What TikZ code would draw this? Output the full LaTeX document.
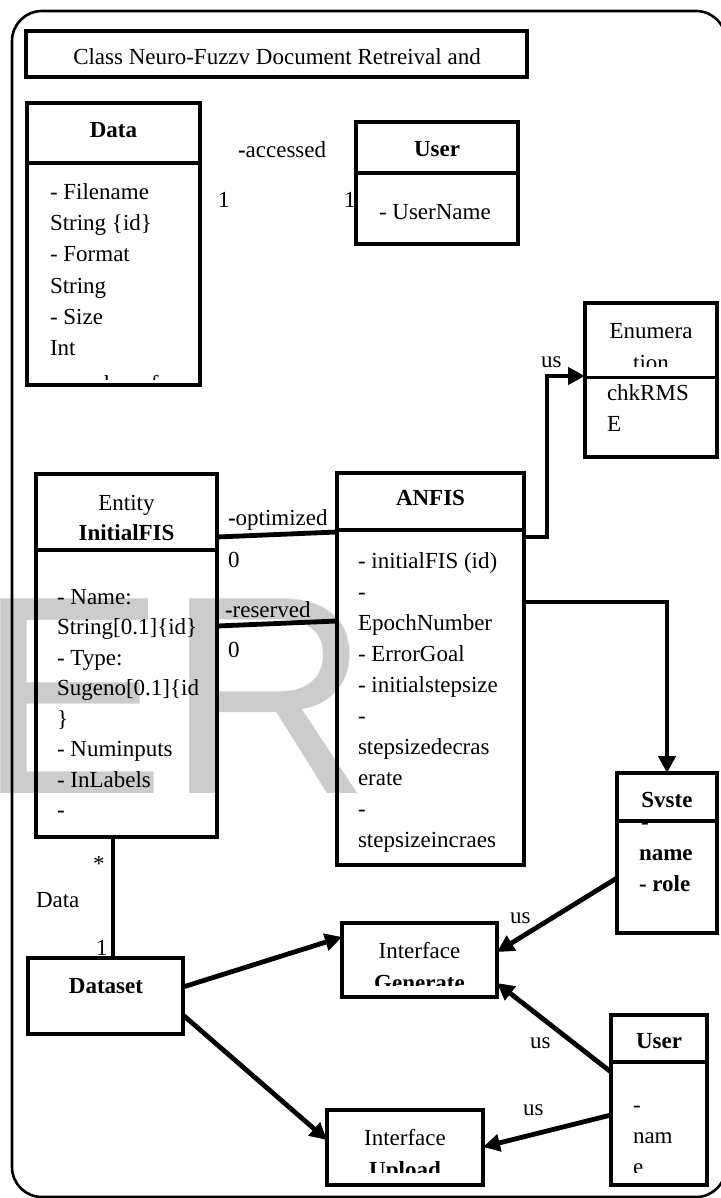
\documentclass[tikz,border=0pt]{standalone}
\usepackage{fontspec}
\setmainfont{Liberation Serif}
\newfontfamily\wmfont{Liberation Sans}
\usetikzlibrary{arrows.meta,fit,calc}

\begin{document}
\begin{tikzpicture}[x=0.5pt,y=-0.5pt,
  every node/.style={inner sep=0pt, outer sep=0pt},
  txt/.style={font=\fontsize{11.5}{15.5}\selectfont, anchor=base west},
  btxt/.style={font=\fontsize{11.5}{15.5}\selectfont\bfseries, anchor=base west},
  ctxt/.style={font=\fontsize{11.5}{15.5}\selectfont, anchor=base},
  hdr/.style={font=\fontsize{11.5}{15.5}\selectfont\bfseries, anchor=base},
  umlbox/.style={draw, line width=2pt, inner sep=0pt, outer sep=0pt},
  divider/.style={line width=2pt},
  assoc/.style={line width=2.4pt},
  dep/.style={line width=2.4pt, -{Triangle[length=8.5pt,width=8.5pt]}},
]
\useasboundingbox (0,0) rectangle (720,1198);

% background watermark letters
\node[anchor=base west, text=gray!40,
      font=\wmfont\fontsize{141.5}{150}\selectfont] (wm) at (-22,793) {ER};

% outer frame
\draw[line width=1.3pt, rounded corners=15pt] (12,11) rectangle (726,1197);

% title
\node[umlbox, fit={(26,31)(527,77)}] (title) {};
\node[ctxt] (titletext) at (277,65) {Class Neuro-Fuzzv Document Retreival and};

% Data class
\node[umlbox, fit={(27,103)(200,385)}] (data) {};
\draw[divider] (data.west |- 0,163) -- (data.east |- 0,163);
\node[hdr] (datah) at (113.5,138) {Data};
\begin{scope}
  \clip (29,165) rectangle (198,379);
  \foreach \t [count=\i from 0] in {- Filename, String \{id\}, - Format, String, - Size, Int}
    \node[txt] (data-a\i) at (50,200+31*\i) {\t};
  \node[txt] (data-a6) at (50,391) {- number of};
\end{scope}

% association Data -- User
\node[txt] (acc) at (238,158) {\textbf{-}accessed};
\node[txt] (accm1) at (218,207) {1};
\node[txt] (accm2) at (344,207) {1};

% User class (top)
\node[umlbox, fit={(356,122)(518,244)}] (user) {};
\draw[divider] (user.west |- 0,173) -- (user.east |- 0,173);
\node[hdr] (userh) at (437,157) {User};
\node[txt] (usera) at (379,220) {- UserName};

% Enumeration
\node[umlbox, fit={(585,303)(717,457)}] (enum) {};
\draw[line width=1.5pt] (enum.west |- 0,377) -- (enum.east |- 0,377);
\node[ctxt] (enumh1) at (651,338) {Enumera};
\begin{scope}
  \clip (587,305) rectangle (715,366);
  \node[ctxt] (enumh2) at (651,370) {tion};
\end{scope}
\node[txt] (enuma1) at (607,400) {chkRMS};
\node[txt] (enuma2) at (607,431) {E};

% InitialFIS entity
\node[umlbox, fit={(36,474)(217,837)}] (ifis) {};
\draw[divider] (ifis.west |- 0,550) -- (ifis.east |- 0,550);
\node[ctxt] (ifish1) at (126.5,510) {Entity};
\node[hdr] (ifish2) at (126.5,540) {InitialFIS};
\foreach \t [count=\i from 0] in {- Name:, String[0.1]\{id\}, - Type:, Sugeno[0.1]\{id, \}, - Numinputs, - InLabels, -}
  \node[txt] (ifis-a\i) at (57,604+30.5*\i) {\t};

% ANFIS class
\node[umlbox, fit={(337,473)(524,865)}] (anfis) {};
\draw[divider] (anfis.west |- 0,530) -- (anfis.east |- 0,530);
\node[hdr] (anfish) at (430.5,505) {ANFIS};
\foreach \t [count=\i from 0] in {- initialFIS (id), -, EpochNumber, - ErrorGoal, - initialstepsize, -, stepsizedecras, erate, -, stepsizeincraes}
  \node[txt] (anfis-a\i) at (358,568+31*\i) {\t};

% System class
\node[umlbox, fit={(617,773)(717,933)}] (sys) {};
\draw[divider] (sys.west |- 0,821) -- (sys.east |- 0,821);
\node[hdr] (sysh) at (667,807) {Svste};
\begin{scope}
  \clip (619,823) rectangle (715,931);
  \node[btxt] (sysa0) at (641,829) {-};
  \node[btxt] (sysa1) at (639,860) {name};
  \node[btxt] (sysa2) at (639,891) {- role};
\end{scope}

% Interface Generate
\node[umlbox, fit={(342,923)(497,997)}] (gen) {};
\node[ctxt] (genh1) at (419.5,958) {Interface};
\begin{scope}
  \clip (344,925) rectangle (495,985);
  \node[hdr] (genh2) at (419.5,990) {Generate};
\end{scope}

% Interface Upload
\node[umlbox, fit={(327,1110)(483,1185)}] (upload) {};
\node[ctxt] (uph1) at (405,1145) {Interface};
\begin{scope}
  \clip (329,1112) rectangle (481,1172);
  \node[hdr] (uph2) at (405,1177) {Upload};
\end{scope}

% User class (bottom)
\node[umlbox, fit={(611,1015)(707,1185)}] (user2) {};
\draw[divider] (user2.west |- 0,1062) -- (user2.east |- 0,1062);
\node[hdr] (user2h) at (659,1048) {User};
\begin{scope}
  \clip (613,1064) rectangle (705,1172);
  \node[txt] (user2a0) at (633,1112) {-};
  \node[txt] (user2a1) at (633,1143) {nam};
  \node[txt] (user2a2) at (633,1174) {e};
\end{scope}

% Dataset
\node[umlbox, fit={(28,958)(183,1034)}] (dataset) {};
\node[hdr] (dataseth) at (106,993) {Dataset};

% associations
\draw[assoc] (ifis.east |- 0,537) -- (anfis.west |- 0,532);
\node[txt] (opt) at (228,525) {\textbf{-}optimized};
\node[txt] (optm) at (228,567) {0};
\draw[assoc] (ifis.east |- 0,626) -- (anfis.west |- 0,621);
\node[txt] (res) at (225,617) {\textbf{-}reserved};
\node[txt] (resm) at (228,657) {0};
\draw[assoc] (ifis.south -| 113,0) -- (dataset.north -| 113,0);
\node[txt] (star) at (93,871) {*};
\node[txt] (dlab) at (36,907) {Data};
\node[txt] (one) at (96,955) {1};

% dependencies
\draw[dep] (anfis.east |- 0,537) -- ++(23,0) |- (enum.west |- 0,376);
\node[txt] (us1) at (541,367) {us};
\draw[dep] (anfis.east |- 0,602) -| (sys.north);
\draw[dep] (sys.west |- 0,878) -- (gen.east |- 0,952);
\node[txt] (us2) at (510,923) {us};
\draw[dep] (user2.west |- 0,1072) -- (gen.east |- 0,983);
\node[txt] (us3) at (530,1048) {us};
\draw[dep] (user2.west |- 0,1115) -- (upload.east |- 0,1147);
\node[txt] (us4) at (523,1115) {us};
\draw[dep] (dataset.east |- 0,987) -- (gen.west |- 0,937);
\draw[dep] (dataset.east |- 0,1015) -- (upload.west |- 0,1140);
\end{tikzpicture}
\end{document}
